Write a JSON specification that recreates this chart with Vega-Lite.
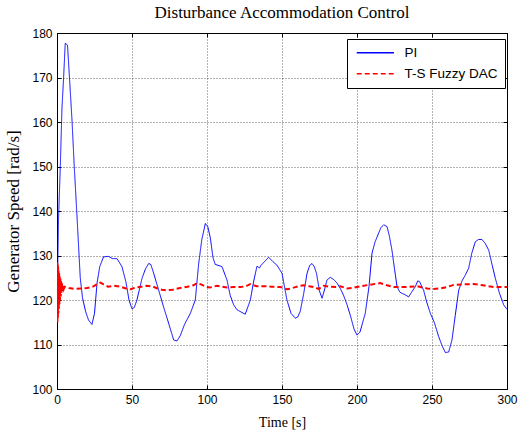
{
  "$schema": "https://vega.github.io/schema/vega-lite/v6.json",
  "width": 450,
  "height": 356,
  "autosize": "none",
  "padding": {"left": 57, "top": 33, "right": 13, "bottom": 41},
  "background": "white",
  "title": {
    "text": "Disturbance Accommodation Control",
    "font": "Liberation Serif",
    "fontSize": 17,
    "fontWeight": "normal",
    "color": "#000",
    "anchor": "middle",
    "offset": 5
  },
  "datasets": {
    "pi": [
      {"t": 0, "speed": 121, "series": "PI"},
      {"t": 0.5, "speed": 128, "series": "PI"},
      {"t": 1, "speed": 138, "series": "PI"},
      {"t": 2.2, "speed": 150, "series": "PI"},
      {"t": 3.3, "speed": 163, "series": "PI"},
      {"t": 4.4, "speed": 170, "series": "PI"},
      {"t": 5.5, "speed": 177.7, "series": "PI"},
      {"t": 7, "speed": 177.3, "series": "PI"},
      {"t": 8.4, "speed": 169.5, "series": "PI"},
      {"t": 10, "speed": 160.4, "series": "PI"},
      {"t": 11.5, "speed": 150, "series": "PI"},
      {"t": 13.3, "speed": 139, "series": "PI"},
      {"t": 15.5, "speed": 125, "series": "PI"},
      {"t": 17, "speed": 120.5, "series": "PI"},
      {"t": 19, "speed": 117.5, "series": "PI"},
      {"t": 21, "speed": 115.5, "series": "PI"},
      {"t": 23.3, "speed": 114.5, "series": "PI"},
      {"t": 25, "speed": 117, "series": "PI"},
      {"t": 26.7, "speed": 123.8, "series": "PI"},
      {"t": 28.5, "speed": 127.5, "series": "PI"},
      {"t": 31, "speed": 129.7, "series": "PI"},
      {"t": 34.4, "speed": 129.8, "series": "PI"},
      {"t": 37, "speed": 129.3, "series": "PI"},
      {"t": 40, "speed": 129.3, "series": "PI"},
      {"t": 43.3, "speed": 127.5, "series": "PI"},
      {"t": 46, "speed": 124, "series": "PI"},
      {"t": 48, "speed": 120, "series": "PI"},
      {"t": 50, "speed": 118, "series": "PI"},
      {"t": 51.5, "speed": 118.3, "series": "PI"},
      {"t": 53.3, "speed": 120, "series": "PI"},
      {"t": 56.7, "speed": 124.9, "series": "PI"},
      {"t": 59, "speed": 127, "series": "PI"},
      {"t": 61.1, "speed": 128.2, "series": "PI"},
      {"t": 62.5, "speed": 128, "series": "PI"},
      {"t": 64, "speed": 126.5, "series": "PI"},
      {"t": 67.8, "speed": 122.2, "series": "PI"},
      {"t": 71, "speed": 118.5, "series": "PI"},
      {"t": 74.4, "speed": 114.8, "series": "PI"},
      {"t": 77.8, "speed": 111, "series": "PI"},
      {"t": 80, "speed": 110.8, "series": "PI"},
      {"t": 82.2, "speed": 112, "series": "PI"},
      {"t": 85, "speed": 114.5, "series": "PI"},
      {"t": 88.9, "speed": 117, "series": "PI"},
      {"t": 92.2, "speed": 120, "series": "PI"},
      {"t": 94.4, "speed": 128, "series": "PI"},
      {"t": 96.5, "speed": 133.5, "series": "PI"},
      {"t": 98.9, "speed": 137.2, "series": "PI"},
      {"t": 100.5, "speed": 136.5, "series": "PI"},
      {"t": 102.2, "speed": 134, "series": "PI"},
      {"t": 104, "speed": 129.5, "series": "PI"},
      {"t": 105.5, "speed": 128, "series": "PI"},
      {"t": 110, "speed": 127.5, "series": "PI"},
      {"t": 113.3, "speed": 124.5, "series": "PI"},
      {"t": 115.5, "speed": 121, "series": "PI"},
      {"t": 117.8, "speed": 118.9, "series": "PI"},
      {"t": 120, "speed": 117.8, "series": "PI"},
      {"t": 122.2, "speed": 117.4, "series": "PI"},
      {"t": 125.5, "speed": 116.8, "series": "PI"},
      {"t": 128.9, "speed": 120, "series": "PI"},
      {"t": 131, "speed": 124, "series": "PI"},
      {"t": 133.3, "speed": 127.6, "series": "PI"},
      {"t": 135, "speed": 127.2, "series": "PI"},
      {"t": 136, "speed": 127.8, "series": "PI"},
      {"t": 138, "speed": 128.5, "series": "PI"},
      {"t": 141.1, "speed": 129.6, "series": "PI"},
      {"t": 144, "speed": 128.6, "series": "PI"},
      {"t": 146.7, "speed": 127.8, "series": "PI"},
      {"t": 150, "speed": 126, "series": "PI"},
      {"t": 153.3, "speed": 120, "series": "PI"},
      {"t": 156, "speed": 117, "series": "PI"},
      {"t": 158.9, "speed": 115.9, "series": "PI"},
      {"t": 160.5, "speed": 116.2, "series": "PI"},
      {"t": 162.2, "speed": 117.5, "series": "PI"},
      {"t": 164.5, "speed": 121.5, "series": "PI"},
      {"t": 166.7, "speed": 126, "series": "PI"},
      {"t": 168.5, "speed": 127.8, "series": "PI"},
      {"t": 170, "speed": 128.2, "series": "PI"},
      {"t": 171.5, "speed": 127.5, "series": "PI"},
      {"t": 173, "speed": 126, "series": "PI"},
      {"t": 175, "speed": 122, "series": "PI"},
      {"t": 176.7, "speed": 120.4, "series": "PI"},
      {"t": 178.5, "speed": 122.5, "series": "PI"},
      {"t": 180, "speed": 124.5, "series": "PI"},
      {"t": 182.2, "speed": 125.1, "series": "PI"},
      {"t": 184.5, "speed": 124.6, "series": "PI"},
      {"t": 186.7, "speed": 123.8, "series": "PI"},
      {"t": 189, "speed": 122.5, "series": "PI"},
      {"t": 191.1, "speed": 121, "series": "PI"},
      {"t": 193.3, "speed": 119, "series": "PI"},
      {"t": 195.5, "speed": 116.6, "series": "PI"},
      {"t": 198, "speed": 113.5, "series": "PI"},
      {"t": 200, "speed": 112.1, "series": "PI"},
      {"t": 202, "speed": 112.8, "series": "PI"},
      {"t": 205.5, "speed": 117, "series": "PI"},
      {"t": 208, "speed": 123, "series": "PI"},
      {"t": 210, "speed": 130.5, "series": "PI"},
      {"t": 212, "speed": 133, "series": "PI"},
      {"t": 214.4, "speed": 135, "series": "PI"},
      {"t": 216, "speed": 136.3, "series": "PI"},
      {"t": 217.8, "speed": 136.9, "series": "PI"},
      {"t": 220, "speed": 136.5, "series": "PI"},
      {"t": 221.5, "speed": 134.5, "series": "PI"},
      {"t": 223.3, "speed": 131.2, "series": "PI"},
      {"t": 225, "speed": 127, "series": "PI"},
      {"t": 226.7, "speed": 123, "series": "PI"},
      {"t": 228.5, "speed": 121.8, "series": "PI"},
      {"t": 230, "speed": 121.5, "series": "PI"},
      {"t": 232, "speed": 121.2, "series": "PI"},
      {"t": 234.4, "speed": 120.7, "series": "PI"},
      {"t": 236.5, "speed": 121.8, "series": "PI"},
      {"t": 238.9, "speed": 123, "series": "PI"},
      {"t": 240.5, "speed": 124.3, "series": "PI"},
      {"t": 241.8, "speed": 124.1, "series": "PI"},
      {"t": 243, "speed": 123.2, "series": "PI"},
      {"t": 244.4, "speed": 122.2, "series": "PI"},
      {"t": 246.5, "speed": 119.5, "series": "PI"},
      {"t": 248.9, "speed": 117, "series": "PI"},
      {"t": 251.5, "speed": 115, "series": "PI"},
      {"t": 254.4, "speed": 111.8, "series": "PI"},
      {"t": 257, "speed": 109.5, "series": "PI"},
      {"t": 258.9, "speed": 108.2, "series": "PI"},
      {"t": 261.1, "speed": 108.3, "series": "PI"},
      {"t": 263.3, "speed": 111, "series": "PI"},
      {"t": 265.5, "speed": 116.5, "series": "PI"},
      {"t": 267.8, "speed": 122.2, "series": "PI"},
      {"t": 270, "speed": 124.3, "series": "PI"},
      {"t": 272.2, "speed": 125.6, "series": "PI"},
      {"t": 274.4, "speed": 127.1, "series": "PI"},
      {"t": 276.5, "speed": 130.5, "series": "PI"},
      {"t": 278.9, "speed": 133.1, "series": "PI"},
      {"t": 281, "speed": 133.6, "series": "PI"},
      {"t": 283.3, "speed": 133.6, "series": "PI"},
      {"t": 285.5, "speed": 132.7, "series": "PI"},
      {"t": 287.8, "speed": 131.2, "series": "PI"},
      {"t": 290, "speed": 128, "series": "PI"},
      {"t": 292.2, "speed": 124.9, "series": "PI"},
      {"t": 295, "speed": 121.5, "series": "PI"},
      {"t": 297.8, "speed": 118.9, "series": "PI"},
      {"t": 300, "speed": 117.9, "series": "PI"}
    ],
    "dac": [
      {"t": 0, "speed": 122, "series": "T-S Fuzzy DAC"},
      {"t": 0.15, "speed": 128.5, "series": "T-S Fuzzy DAC"},
      {"t": 0.3, "speed": 115, "series": "T-S Fuzzy DAC"},
      {"t": 0.45, "speed": 128, "series": "T-S Fuzzy DAC"},
      {"t": 0.6, "speed": 116, "series": "T-S Fuzzy DAC"},
      {"t": 0.75, "speed": 127.5, "series": "T-S Fuzzy DAC"},
      {"t": 0.9, "speed": 117, "series": "T-S Fuzzy DAC"},
      {"t": 1.05, "speed": 126.8, "series": "T-S Fuzzy DAC"},
      {"t": 1.2, "speed": 118, "series": "T-S Fuzzy DAC"},
      {"t": 1.4, "speed": 126, "series": "T-S Fuzzy DAC"},
      {"t": 1.6, "speed": 119, "series": "T-S Fuzzy DAC"},
      {"t": 1.8, "speed": 125.3, "series": "T-S Fuzzy DAC"},
      {"t": 2.0, "speed": 120, "series": "T-S Fuzzy DAC"},
      {"t": 2.25, "speed": 124.8, "series": "T-S Fuzzy DAC"},
      {"t": 2.5, "speed": 120.8, "series": "T-S Fuzzy DAC"},
      {"t": 2.75, "speed": 124.2, "series": "T-S Fuzzy DAC"},
      {"t": 3.0, "speed": 121.5, "series": "T-S Fuzzy DAC"},
      {"t": 3.3, "speed": 123.8, "series": "T-S Fuzzy DAC"},
      {"t": 3.6, "speed": 122, "series": "T-S Fuzzy DAC"},
      {"t": 4, "speed": 123.3, "series": "T-S Fuzzy DAC"},
      {"t": 4.5, "speed": 122.5, "series": "T-S Fuzzy DAC"},
      {"t": 5, "speed": 123, "series": "T-S Fuzzy DAC"},
      {"t": 8, "speed": 122.7, "series": "T-S Fuzzy DAC"},
      {"t": 12, "speed": 122.5, "series": "T-S Fuzzy DAC"},
      {"t": 16, "speed": 122.6, "series": "T-S Fuzzy DAC"},
      {"t": 20, "speed": 122.7, "series": "T-S Fuzzy DAC"},
      {"t": 24, "speed": 123, "series": "T-S Fuzzy DAC"},
      {"t": 27, "speed": 123.6, "series": "T-S Fuzzy DAC"},
      {"t": 29, "speed": 123.9, "series": "T-S Fuzzy DAC"},
      {"t": 31, "speed": 123.5, "series": "T-S Fuzzy DAC"},
      {"t": 34, "speed": 123, "series": "T-S Fuzzy DAC"},
      {"t": 38, "speed": 123.2, "series": "T-S Fuzzy DAC"},
      {"t": 42, "speed": 123, "series": "T-S Fuzzy DAC"},
      {"t": 46, "speed": 122.6, "series": "T-S Fuzzy DAC"},
      {"t": 49, "speed": 122.4, "series": "T-S Fuzzy DAC"},
      {"t": 52, "speed": 122.8, "series": "T-S Fuzzy DAC"},
      {"t": 56, "speed": 123, "series": "T-S Fuzzy DAC"},
      {"t": 60, "speed": 123.2, "series": "T-S Fuzzy DAC"},
      {"t": 64, "speed": 123, "series": "T-S Fuzzy DAC"},
      {"t": 67, "speed": 122.6, "series": "T-S Fuzzy DAC"},
      {"t": 70, "speed": 122.3, "series": "T-S Fuzzy DAC"},
      {"t": 73, "speed": 122.2, "series": "T-S Fuzzy DAC"},
      {"t": 77, "speed": 122.3, "series": "T-S Fuzzy DAC"},
      {"t": 82, "speed": 122.7, "series": "T-S Fuzzy DAC"},
      {"t": 87, "speed": 123, "series": "T-S Fuzzy DAC"},
      {"t": 91, "speed": 123.3, "series": "T-S Fuzzy DAC"},
      {"t": 93.3, "speed": 123.8, "series": "T-S Fuzzy DAC"},
      {"t": 96, "speed": 123.5, "series": "T-S Fuzzy DAC"},
      {"t": 99, "speed": 123, "series": "T-S Fuzzy DAC"},
      {"t": 102, "speed": 122.8, "series": "T-S Fuzzy DAC"},
      {"t": 106.7, "speed": 123.2, "series": "T-S Fuzzy DAC"},
      {"t": 110, "speed": 123, "series": "T-S Fuzzy DAC"},
      {"t": 113.3, "speed": 122.8, "series": "T-S Fuzzy DAC"},
      {"t": 118, "speed": 122.9, "series": "T-S Fuzzy DAC"},
      {"t": 122.2, "speed": 122.9, "series": "T-S Fuzzy DAC"},
      {"t": 126, "speed": 123.1, "series": "T-S Fuzzy DAC"},
      {"t": 128.9, "speed": 123.6, "series": "T-S Fuzzy DAC"},
      {"t": 131, "speed": 123.3, "series": "T-S Fuzzy DAC"},
      {"t": 133.3, "speed": 123.1, "series": "T-S Fuzzy DAC"},
      {"t": 138, "speed": 123.1, "series": "T-S Fuzzy DAC"},
      {"t": 143, "speed": 123, "series": "T-S Fuzzy DAC"},
      {"t": 148.9, "speed": 122.9, "series": "T-S Fuzzy DAC"},
      {"t": 151, "speed": 122.7, "series": "T-S Fuzzy DAC"},
      {"t": 153.3, "speed": 122.4, "series": "T-S Fuzzy DAC"},
      {"t": 156, "speed": 122.6, "series": "T-S Fuzzy DAC"},
      {"t": 158.9, "speed": 122.9, "series": "T-S Fuzzy DAC"},
      {"t": 162, "speed": 123.2, "series": "T-S Fuzzy DAC"},
      {"t": 164.4, "speed": 123.3, "series": "T-S Fuzzy DAC"},
      {"t": 168, "speed": 123.1, "series": "T-S Fuzzy DAC"},
      {"t": 171.1, "speed": 122.9, "series": "T-S Fuzzy DAC"},
      {"t": 174.4, "speed": 122.5, "series": "T-S Fuzzy DAC"},
      {"t": 177.8, "speed": 123.2, "series": "T-S Fuzzy DAC"},
      {"t": 181, "speed": 123, "series": "T-S Fuzzy DAC"},
      {"t": 186, "speed": 122.9, "series": "T-S Fuzzy DAC"},
      {"t": 189, "speed": 123.1, "series": "T-S Fuzzy DAC"},
      {"t": 193.3, "speed": 122.6, "series": "T-S Fuzzy DAC"},
      {"t": 197, "speed": 122.7, "series": "T-S Fuzzy DAC"},
      {"t": 202.2, "speed": 123.1, "series": "T-S Fuzzy DAC"},
      {"t": 208, "speed": 123.4, "series": "T-S Fuzzy DAC"},
      {"t": 215.5, "speed": 123.8, "series": "T-S Fuzzy DAC"},
      {"t": 220, "speed": 123.3, "series": "T-S Fuzzy DAC"},
      {"t": 224.4, "speed": 122.9, "series": "T-S Fuzzy DAC"},
      {"t": 232.2, "speed": 122.9, "series": "T-S Fuzzy DAC"},
      {"t": 240, "speed": 123.1, "series": "T-S Fuzzy DAC"},
      {"t": 246.7, "speed": 122.6, "series": "T-S Fuzzy DAC"},
      {"t": 251, "speed": 122.5, "series": "T-S Fuzzy DAC"},
      {"t": 255.5, "speed": 122.6, "series": "T-S Fuzzy DAC"},
      {"t": 260, "speed": 122.9, "series": "T-S Fuzzy DAC"},
      {"t": 264.4, "speed": 123.4, "series": "T-S Fuzzy DAC"},
      {"t": 270, "speed": 123.5, "series": "T-S Fuzzy DAC"},
      {"t": 277.8, "speed": 123.6, "series": "T-S Fuzzy DAC"},
      {"t": 284, "speed": 123.3, "series": "T-S Fuzzy DAC"},
      {"t": 291.1, "speed": 122.9, "series": "T-S Fuzzy DAC"},
      {"t": 300, "speed": 122.9, "series": "T-S Fuzzy DAC"}
    ]
  },
  "config": {
    "view": {"stroke": "#000", "strokeWidth": 1},
    "axis": {
      "domainColor": "#000",
      "domainWidth": 1,
      "tickColor": "#000",
      "tickSize": -4,
      "labelFont": "Liberation Sans",
      "labelFontSize": 12,
      "labelColor": "#000",
      "titleFont": "Liberation Serif",
      "titleFontWeight": "normal",
      "titleColor": "#000",
      "gridColor": "#000",
      "gridOpacity": 0.6,
      "gridDash": [1, 2],
      "gridWidth": 1
    },
    "legend": {
      "orient": "none",
      "legendX": 290,
      "legendY": 6,
      "strokeColor": "#000",
      "fillColor": "#fff",
      "padding": 7,
      "rowPadding": 6,
      "labelFont": "Liberation Sans",
      "labelFontSize": 13.5,
      "labelColor": "#000",
      "labelOffset": 37,
      "symbolType": "M-1,0H8.3",
      "symbolSize": 64,
      "symbolStrokeWidth": 1.6,
      "title": null
    }
  },
  "encoding": {
    "x": {"field": "t", "type": "quantitative"},
    "y": {"field": "speed", "type": "quantitative"},
    "color": {
      "field": "series",
      "type": "nominal",
      "title": null,
      "scale": {"domain": ["PI", "T-S Fuzzy DAC"], "range": ["#0000ff", "#ff0000"]}
    },
    "strokeDash": {
      "field": "series",
      "type": "nominal",
      "title": null,
      "scale": {"domain": ["PI", "T-S Fuzzy DAC"], "range": [[1, 0], [5, 3]]}
    }
  },
  "layer": [
    {
      "data": {"name": "pi"},
      "mark": {"type": "line", "strokeWidth": 1, "clip": true},
      "encoding": {
        "x": {
          "field": "t",
          "type": "quantitative",
          "scale": {"domain": [0, 300], "nice": false},
          "axis": {"title": "Time [s]", "titleFontSize": 14, "titlePadding": 10, "values": [0, 50, 100, 150, 200, 250, 300], "labelPadding": 9, "labelFlush": false}
        },
        "y": {
          "field": "speed",
          "type": "quantitative",
          "scale": {"domain": [100, 180], "nice": false, "zero": false},
          "axis": {"title": "Generator Speed [rad/s]", "titleFontSize": 17, "titlePadding": 9, "values": [100, 110, 120, 130, 140, 150, 160, 170, 180], "labelPadding": 9, "labelFlush": false}
        }
      }
    },
    {
      "data": {"name": "dac"},
      "mark": {"type": "line", "strokeWidth": 2, "clip": true},
      "encoding": {
        "x": {
          "field": "t",
          "type": "quantitative",
          "axis": {"orient": "top", "title": null, "labels": false, "grid": false, "domain": false, "values": [0, 50, 100, 150, 200, 250, 300]}
        },
        "y": {
          "field": "speed",
          "type": "quantitative",
          "axis": {"orient": "right", "title": null, "labels": false, "grid": false, "domain": false, "values": [100, 110, 120, 130, 140, 150, 160, 170, 180]}
        }
      }
    }
  ],
  "resolve": {"axis": {"x": "independent", "y": "independent"}}
}
